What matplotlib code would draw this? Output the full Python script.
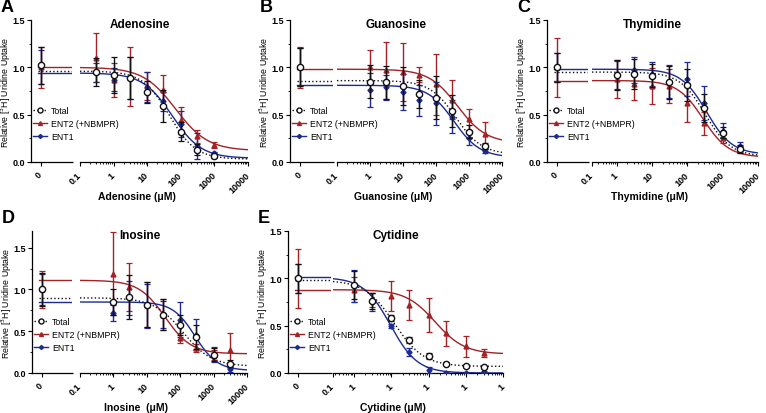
import numpy as np
import matplotlib
matplotlib.use("Agg")
import matplotlib.pyplot as plt
from matplotlib.lines import Line2D
from matplotlib.ticker import FixedLocator, LogLocator, MultipleLocator, NullFormatter

plt.rcParams['font.family'] = ['Liberation Sans', 'DejaVu Sans']

RED = '#A32226'
BLUE = '#1D2A94'
BLACK = '#111111'

# ---- data (first element of each series is the 0 uM control) ----
# Adenosine
ado_conc = [0, 0.3, 1, 3, 10, 30, 100, 300, 1000]
ado_total = [1.02, 0.95, 0.92, 0.89, 0.74, 0.59, 0.32, 0.13, 0.06]
ado_total_err = [0.20, 0.15, 0.19, 0.22, 0.12, 0.17, 0.10, 0.06, 0.02]
ado_ent2 = [1.00, 1.10, 0.87, 0.90, 0.80, 0.76, 0.44, 0.27, 0.18]
ado_ent2_err = [0.22, 0.26, 0.18, 0.31, 0.15, 0.16, 0.14, 0.07, 0.03]
ado_ent1 = [1.00, 0.95, 0.87, 0.89, 0.79, 0.64, 0.40, 0.17, 0.09]
ado_ent1_err = [0.18, 0.10, 0.12, 0.22, 0.16, 0.10, 0.14, 0.14, 0.02]
# fit parameters: total, ENT2, ENT1
ado_top = [0.96, 1.00, 0.94]
ado_bottom = [0.03, 0.12, 0.04]
ado_ic50 = [45, 70, 55]
ado_hill = [1.1, 0.9, 1.0]

# Guanosine
guo_conc = [0, 1, 3, 10, 30, 100, 300, 1000, 3000]
guo_total = [1.00, 0.85, 0.84, 0.80, 0.72, 0.68, 0.54, 0.32, 0.17]
guo_total_err = [0.20, 0.17, 0.17, 0.20, 0.15, 0.23, 0.17, 0.07, 0.03]
guo_ent2 = [1.00, 1.00, 0.97, 0.95, 0.92, 0.82, 0.66, 0.45, 0.30]
guo_ent2_err = [0.22, 0.18, 0.30, 0.31, 0.08, 0.32, 0.21, 0.11, 0.12]
guo_ent1 = [1.00, 0.76, 0.79, 0.74, 0.65, 0.62, 0.48, 0.25, 0.12]
guo_ent1_err = [0.20, 0.18, 0.13, 0.19, 0.16, 0.23, 0.17, 0.07, 0.02]
guo_top = [0.86, 0.98, 0.81]
guo_bottom = [0.08, 0.20, 0.05]
guo_ic50 = [400, 450, 350]
guo_hill = [1.1, 1.0, 1.1]

# Thymidine
thd_conc = [0, 1, 3, 10, 30, 100, 300, 1000, 3000]
thd_total = [1.00, 0.92, 0.93, 0.91, 0.84, 0.81, 0.57, 0.31, 0.14]
thd_total_err = [0.15, 0.16, 0.16, 0.12, 0.17, 0.17, 0.15, 0.06, 0.04]
thd_ent2 = [1.00, 0.88, 0.82, 0.80, 0.80, 0.62, 0.41, 0.25, 0.13]
thd_ent2_err = [0.31, 0.20, 0.16, 0.19, 0.18, 0.20, 0.12, 0.05, 0.03]
thd_ent1 = [1.00, 0.92, 0.97, 0.93, 0.85, 0.88, 0.62, 0.33, 0.17]
thd_ent1_err = [0.15, 0.15, 0.14, 0.13, 0.17, 0.18, 0.18, 0.08, 0.04]
thd_top = [0.95, 0.86, 0.98]
thd_bottom = [0.06, 0.05, 0.08]
thd_ic50 = [320, 280, 350]
thd_hill = [1.2, 1.2, 1.2]

# Inosine
ino_conc = [0, 1, 3, 10, 30, 100, 300, 1000, 3000]
ino_total = [1.00, 0.85, 0.91, 0.82, 0.70, 0.58, 0.43, 0.22, 0.11]
ino_total_err = [0.20, 0.15, 0.26, 0.27, 0.18, 0.12, 0.14, 0.08, 0.04]
ino_ent2 = [1.00, 1.19, 1.03, 0.82, 0.70, 0.42, 0.30, 0.22, 0.27]
ino_ent2_err = [0.22, 0.50, 0.29, 0.27, 0.18, 0.06, 0.05, 0.06, 0.21]
ino_ent1 = [1.00, 0.72, 0.90, 0.80, 0.70, 0.64, 0.46, 0.22, 0.05]
ino_ent1_err = [0.18, 0.10, 0.20, 0.26, 0.16, 0.21, 0.19, 0.09, 0.04]
ino_top = [0.90, 1.11, 0.85]
ino_bottom = [0.08, 0.23, 0.03]
ino_ic50 = [120, 35, 280]
ino_hill = [1.0, 1.1, 1.3]

# Cytidine
cyd_conc = [0, 1, 3, 10, 30, 100, 300, 1000, 3000]
cyd_total = [1.00, 0.93, 0.76, 0.58, 0.35, 0.18, 0.10, 0.07, 0.06]
cyd_total_err = [0.15, 0.15, 0.08, 0.03, 0.03, 0.03, 0.02, 0.01, 0.01]
cyd_ent2 = [1.00, 0.88, 0.77, 0.81, 0.72, 0.61, 0.42, 0.28, 0.21]
cyd_ent2_err = [0.31, 0.13, 0.07, 0.16, 0.16, 0.18, 0.13, 0.11, 0.04]
cyd_ent1 = [1.00, 0.92, 0.75, 0.50, 0.22, 0.03, 0.00, 0.00, 0.01]
cyd_ent1_err = [0.15, 0.17, 0.10, 0.02, 0.04, 0.03, 0.01, 0.01, 0.01]
cyd_top = [0.98, 0.88, 1.01]
cyd_bottom = [0.07, 0.20, 0.00]
cyd_ic50 = [12, 150, 9.5]
cyd_hill = [1.1, 1.1, 1.2]

W, H = 766, 414


def fx(p):
    return p / W


def fy(p):
    return 1 - p / H


def logistic(x, top, bottom, ic50, hill):
    return bottom + (top - bottom) / (1 + (x / ic50) ** hill)


def draw_panel(fig, letter, title, xlabel, geom, conc, series, fits,
               ymax=1.5, xmin=0.1, xticklabels=None):
    lx0, lx1, rx0, rx1, yt, yb = geom
    axl = fig.add_axes([fx(lx0), fy(yb), fx(lx1 - lx0), (yb - yt) / H])
    axr = fig.add_axes([fx(rx0), fy(yb), fx(rx1 - rx0), (yb - yt) / H], sharey=axl)

    conc = np.asarray(conc, dtype=float)
    styles = [
        dict(color=BLACK, marker='o', mfc='white', ls=':', label='Total', ms=4.5),
        dict(color=RED, marker='^', mfc=RED, ls='-', label='ENT2 (+NBMPR)', ms=3.5),
        dict(color=BLUE, marker='D', mfc=BLUE, ls='-', label='ENT1', ms=2.6),
    ]
    order = [1, 2, 0]
    xs = np.logspace(np.log10(xmin), 4, 300)
    for i in order:
        y, err = series[i]
        st = styles[i]
        top, bottom, ic50, hill = fits[0][i], fits[1][i], fits[2][i], fits[3][i]
        lw = 1.0
        # fitted curve
        axr.plot(xs, logistic(xs, top, bottom, ic50, hill), color=st['color'],
                 ls=st['ls'], lw=lw, zorder=2)
        axl.axhline(top, xmin=0.17, color=st['color'], ls=st['ls'], lw=lw, zorder=2)
        # points
        for ax, sel in ((axl, slice(0, 1)), (axr, slice(1, None))):
            ax.errorbar(conc[sel], np.asarray(y)[sel], yerr=np.asarray(err)[sel],
                        fmt=st['marker'], color=st['color'], mfc=st['mfc'],
                        mec=st['color'], ms=st['ms'], elinewidth=1.0, capsize=2,
                        capthick=0.9, zorder=3 if i else 4)

    axl.set_xlim(-1, 3.2)
    axl.set_ylim(0, ymax)
    axl.set_xticks([0])
    axl.set_xticklabels(['0'])
    axl.yaxis.set_major_locator(FixedLocator([0, 0.5, 1.0, 1.5]))
    axl.yaxis.set_minor_locator(MultipleLocator(0.25))
    axl.spines[['top', 'right']].set_visible(False)

    axr.set_xscale('log')
    axr.set_xlim(xmin, 10000)
    majors = [xmin, 1, 10, 100, 1000, 10000]
    axr.xaxis.set_major_locator(FixedLocator(majors))
    axr.xaxis.set_minor_locator(LogLocator(base=10, subs=np.arange(2, 10), numticks=20))
    axr.xaxis.set_minor_formatter(NullFormatter())
    if xticklabels is None:
        xticklabels = ['0.1', '1', '10', '100', '1000', '10000']
    axr.set_xticklabels(xticklabels)
    axr.spines[['top', 'right', 'left']].set_visible(False)
    axr.tick_params(axis='y', left=False, labelleft=False, which='both')

    for ax in (axl, axr):
        for sp in ax.spines.values():
            sp.set_linewidth(0.9)
        ax.tick_params(which='major', length=3, width=0.8, labelsize=6.5, pad=1.5)
        ax.tick_params(which='minor', length=1.6, width=0.6)
        for lab in ax.get_xticklabels():
            lab.set_rotation(45)
            lab.set_ha('right')
            lab.set_va('center')
            lab.set_rotation_mode('anchor')
            lab.set_fontweight('bold')
        for lab in ax.get_yticklabels():
            lab.set_fontweight('bold')
    axl.tick_params(axis='x', pad=5)
    axr.tick_params(axis='x', pad=5)

    # break marks on x axis
    axl.plot([1.0, 1.02], [0, 0], transform=axl.transAxes, color=BLACK,
             lw=0.8, ls=':', clip_on=False)

    # texts
    cx = (lx0 + rx1) / 2
    fig.text(fx(cx), fy(yt + 4), title, ha='center', va='center',
             fontsize=8.5, fontweight='bold')
    fig.text(fx(cx - 3), fy(yb + 34), xlabel, ha='center', va='center',
             fontsize=7.5, fontweight='bold')
    fig.text(fx(lx0 - 25), fy((yt + yb) / 2), 'Relative [$^3$H] Uridine Uptake',
             rotation=90, ha='center', va='center', fontsize=6.3)
    fig.text(fx(lx0 - 30), fy(yt - 13), letter, ha='left', va='center',
             fontsize=13, fontweight='bold')

    handles = [Line2D([], [], color=s['color'], marker=s['marker'], mfc=s['mfc'],
                      mec=s['color'], ls=s['ls'], lw=1.0, ms=s['ms'] * 0.8)
               for s in styles]
    fig.legend(handles, [s['label'] for s in styles], loc='upper left',
               bbox_to_anchor=(fx(lx0 + 1), fy(yt + 85)), frameon=False,
               fontsize=6.3, handlelength=1.6, handletextpad=0.5,
               labelspacing=0.45, borderpad=0.1, borderaxespad=0)
    return axl, axr


fig = plt.figure(figsize=(7.66, 4.14), dpi=100)

draw_panel(fig, 'A', 'Adenosine', 'Adenosine (\u03bcM)', (31, 72, 80, 248, 21, 163),
           ado_conc,
           [(ado_total, ado_total_err), (ado_ent2, ado_ent2_err), (ado_ent1, ado_ent1_err)],
           (ado_top, ado_bottom, ado_ic50, ado_hill))
draw_panel(fig, 'B', 'Guanosine', 'Guanosine (\u03bcM)', (290, 333, 337, 502, 21, 163),
           guo_conc,
           [(guo_total, guo_total_err), (guo_ent2, guo_ent2_err), (guo_ent1, guo_ent1_err)],
           (guo_top, guo_bottom, guo_ic50, guo_hill))
draw_panel(fig, 'C', 'Thymidine', 'Thymidine (\u03bcM)', (547, 588, 592, 758, 21, 163),
           thd_conc,
           [(thd_total, thd_total_err), (thd_ent2, thd_ent2_err), (thd_ent1, thd_ent1_err)],
           (thd_top, thd_bottom, thd_ic50, thd_hill), xmin=0.2)
draw_panel(fig, 'D', 'Inosine', 'Inosine  (\u03bcM)', (32, 72, 80, 247, 232, 374),
           ino_conc,
           [(ino_total, ino_total_err), (ino_ent2, ino_ent2_err), (ino_ent1, ino_ent1_err)],
           (ino_top, ino_bottom, ino_ic50, ino_hill), ymax=1.7)
draw_panel(fig, 'E', 'Cytidine', 'Cytidine (\u03bcM)', (288, 331, 333, 503, 232, 374),
           cyd_conc,
           [(cyd_total, cyd_total_err), (cyd_ent2, cyd_ent2_err), (cyd_ent1, cyd_ent1_err)],
           (cyd_top, cyd_bottom, cyd_ic50, cyd_hill), xmin=0.27,
           xticklabels=['0.1', '1', '1', '1', '1', '1'])

fig.savefig('out.png', dpi=100)
